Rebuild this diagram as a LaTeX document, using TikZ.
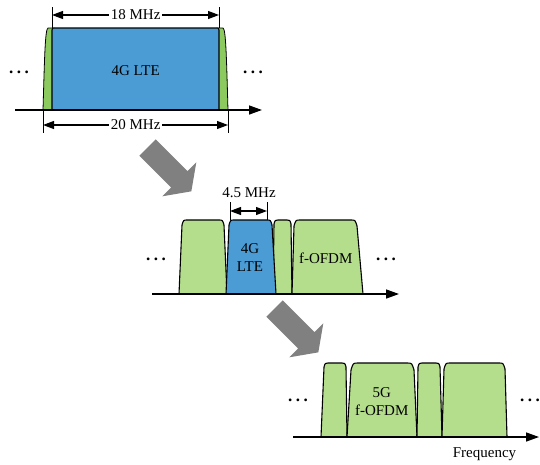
\documentclass[tikz,border=0pt]{standalone}
\usepackage{fontspec}
\setmainfont{Liberation Serif}
\usetikzlibrary{arrows.meta}
\definecolor{bandblue}{RGB}{75,155,212}
\definecolor{bandgreen}{RGB}{180,222,140}
\definecolor{lobegreen}{RGB}{140,202,95}
\definecolor{arrowgray}{RGB}{128,128,128}
% #1 bottom-left x, #2 top-left x, #3 top-right x, #4 bottom-right x, #5 top y, #6 bottom y, #7 fill, #8 corner
\newcommand{\fband}[8]{%
  \draw[bandline, fill=#7] (#1,#6) -- (#2,#5+#8) .. controls (#2+0.3*#8,#5) .. (#2+#8,#5)
    -- (#3-#8,#5) .. controls (#3-0.3*#8,#5) .. (#3,#5+#8) -- (#4,#6) -- cycle;}
\newcommand{\fatarrow}[2]{%
  \fill[arrowgray, shift={(#1,#2)}, rotate=-45]
    (0,-11.5) -- (45,-11.5) -- (45,-24) -- (62,0) -- (45,24) -- (45,11.5) -- (0,11.5) -- cycle;}
\newcommand{\threedots}{\bfseries .\hspace{3.6pt}.\hspace{3.6pt}.}
\begin{document}
\begin{tikzpicture}[x=1pt,y=-1pt,
  font=\fontsize{15}{18}\selectfont,
  bandline/.style={draw=black, line width=1.1pt, line join=round},
  lobe/.style={draw=black, line width=0.8pt, fill=lobegreen},
  axis/.style={line width=1.4pt, -{Triangle[length=13pt,width=9pt]}},
  tick/.style={line width=0.8pt},
  dim/.style={line width=1.1pt, {Triangle[length=11pt,width=8pt]}-{Triangle[length=11pt,width=8pt]}},
  lbl/.style={anchor=base, inner sep=0pt},
  dimlbl/.style={anchor=base, inner sep=2pt, fill=white},
  dots/.style={anchor=base, inner sep=0pt, font=\fontsize{17}{20}\selectfont}]
\useasboundingbox (0,0) rectangle (540,464);

% ---------- top panel ----------
\draw[lobe] (43,110) .. controls (44.5,60) and (45,29) .. (48,28) -- (54,28) -- (54,110) -- cycle;
\draw[lobe] (228,110) .. controls (226.5,60) and (226,29) .. (223,28) -- (217,28) -- (217,110) -- cycle;
\fband{52}{52}{219}{219}{28}{110}{bandblue}{2}
\coordinate (a1s) at (15,110);
\coordinate (a1e) at (262,110);
\draw[axis] (a1s) -- (a1e);
\node[lbl] (lte1) at (135.7,75) {4G LTE};
\node[dots] (d1l) at (19,73.5) {\threedots};
\node[dots] (d1r) at (253,73.5) {\threedots};
% 18 MHz
\coordinate (t18a) at (52,7);   \coordinate (t18b) at (52,28);
\coordinate (t18c) at (219,7);  \coordinate (t18d) at (219,28);
\draw[tick] (t18a) -- (t18b);
\draw[tick] (t18c) -- (t18d);
\coordinate (d18l) at (52,15); \coordinate (d18r) at (219,15);
\draw[dim] (d18l) -- (d18r);
\node[dimlbl] (l18) at (135.7,19.5) {18 MHz};
% 20 MHz
\coordinate (t20a) at (43,110);  \coordinate (t20b) at (43,133);
\coordinate (t20c) at (228,110); \coordinate (t20d) at (228,133);
\draw[tick] (t20a) -- (t20b);
\draw[tick] (t20c) -- (t20d);
\coordinate (d20l) at (43,125); \coordinate (d20r) at (228,125);
\draw[dim] (d20l) -- (d20r);
\node[dimlbl] (l20) at (135.7,129.5) {20 MHz};

% ---------- arrows ----------
\fatarrow{147.5}{147.5}
\fatarrow{274.5}{308.5}

% ---------- middle panel ----------
\fband{179}{182}{224}{227}{220}{294}{bandgreen}{5}
\fband{273}{274}{291}{292}{220}{294}{bandgreen}{4}
\fband{226}{229}{272}{276}{220}{294}{bandblue}{5}
\fband{292}{294}{357}{363}{220}{294}{bandgreen}{6}
\coordinate (a2s) at (152,294);
\coordinate (a2e) at (399,294);
\draw[axis] (a2s) -- (a2e);
\node[lbl] (lte2a) at (250,253.3) {4G};
\node[lbl] (lte2b) at (250,271.7) {LTE};
\node[lbl] (ofdm2) at (325.7,263.3) {f-OFDM};
\node[dots] (d2l) at (156,260) {\threedots};
\node[dots] (d2r) at (386,260) {\threedots};
% 4.5 MHz
\coordinate (t45a) at (230,202); \coordinate (t45b) at (230,220);
\coordinate (t45c) at (267,202); \coordinate (t45d) at (267,220);
\draw[tick] (t45a) -- (t45b);
\draw[tick] (t45c) -- (t45d);
\coordinate (d45l) at (230,211); \coordinate (d45r) at (267,211);
\draw[dim] (d45l) -- (d45r);
\node[lbl] (l45) at (249,197.3) {4.5 MHz};

% ---------- bottom panel ----------
\fband{321}{324}{346}{347}{363}{437}{bandgreen}{4}
\fband{347}{351}{414}{417}{363}{437}{bandgreen}{7}
\fband{417}{418}{440}{442}{363}{437}{bandgreen}{4}
\fband{442}{444}{505}{507}{363}{437}{bandgreen}{6}
\coordinate (a3s) at (293,437);
\coordinate (a3e) at (539,437);
\draw[axis] (a3s) -- (a3e);
\node[lbl] (g5) at (381.7,397.3) {5G};
\node[lbl] (ofdm3) at (381.7,415.7) {f-OFDM};
\node[dots] (d3l) at (298,401) {\threedots};
\node[dots] (d3r) at (530,401) {\threedots};
\node[lbl] (freq) at (484.5,457) {Frequency};
\end{tikzpicture}
\end{document}
